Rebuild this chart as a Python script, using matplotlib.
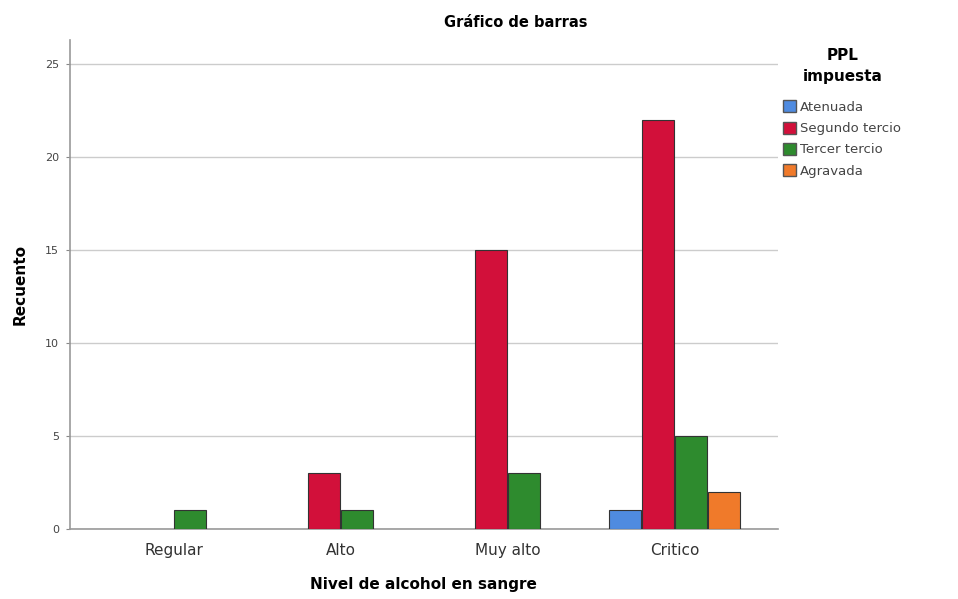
import matplotlib
matplotlib.use("Agg")
import matplotlib.pyplot as plt
import numpy as np
from matplotlib.patches import Patch

categories = ["Regular", "Alto", "Muy alto", "Critico"]
series_names = ["Atenuada", "Segundo tercio", "Tercer tercio", "Agravada"]
atenuada = [0, 0, 0, 1]
segundo = [0, 3, 15, 22]
tercer = [1, 1, 3, 5]
agravada = [0, 0, 0, 2]
yticks = [0, 5, 10, 15, 20, 25]

colors = ["#4F8BE0", "#D2103A", "#2E8B2E", "#F07A2A"]
series = [atenuada, segundo, tercer, agravada]

fig = plt.figure(figsize=(9.58, 5.99), dpi=100)
ax = fig.add_axes([0.073, 0.117, 0.739, 0.816])

x = np.arange(len(categories))
w = 0.198
for i, (vals, c) in enumerate(zip(series, colors)):
    v = np.array(vals, dtype=float)
    v[v == 0] = np.nan
    ax.bar(x + (i - 1.5) * w, v, width=w * 0.97, color=c, edgecolor="#333333", linewidth=0.8, zorder=3)

ax.set_xlim(-0.62, 3.62)
ax.set_ylim(0, 26.3)
ax.set_yticks(yticks)
ax.set_yticklabels([str(t) for t in yticks], fontsize=8, color="#444444")
ax.set_xticks(x)
ax.set_xticklabels(categories, fontsize=11, color="#333333")
ax.tick_params(axis="y", length=3, color="#888888", pad=5)
ax.tick_params(axis="x", length=0, pad=10)
ax.yaxis.grid(True, color="#CCCCCC", linewidth=1, zorder=0)
ax.set_axisbelow(True)
for s in ["top", "right"]:
    ax.spines[s].set_visible(False)
ax.spines["left"].set_color("#999999")
ax.spines["bottom"].set_color("#999999")
ax.spines["left"].set_linewidth(1.2)
ax.spines["bottom"].set_linewidth(1.2)

ax.set_ylabel("Recuento", fontsize=11, fontweight="bold", labelpad=12)
ax.set_xlabel("Nivel de alcohol en sangre", fontsize=11, fontweight="bold", labelpad=14)
fig.text(0.538, 0.962, "Gráfico de barras", ha="center", va="center", fontsize=10.5, fontweight="bold")

handles = [Patch(facecolor=c, edgecolor="#555555", label=n) for c, n in zip(colors, series_names)]
leg = fig.legend(handles=handles, title="PPL\nimpuesta", loc="upper left",
                 bbox_to_anchor=(0.812, 0.928), frameon=False, fontsize=9.5,
                 handlelength=1.0, handleheight=1.0, handletextpad=0.3, labelspacing=0.6,
                 borderaxespad=0)
leg.get_title().set_fontweight("bold")
leg.get_title().set_fontsize(11)
leg.get_title().set_multialignment("center")
leg.get_title().set_linespacing(1.5)
try:
    leg._legend_box.sep = leg._legend_box.sep + 5.8
except Exception:
    pass
for t in leg.get_texts():
    t.set_color("#444444")

fig.savefig("out.png", dpi=100)
